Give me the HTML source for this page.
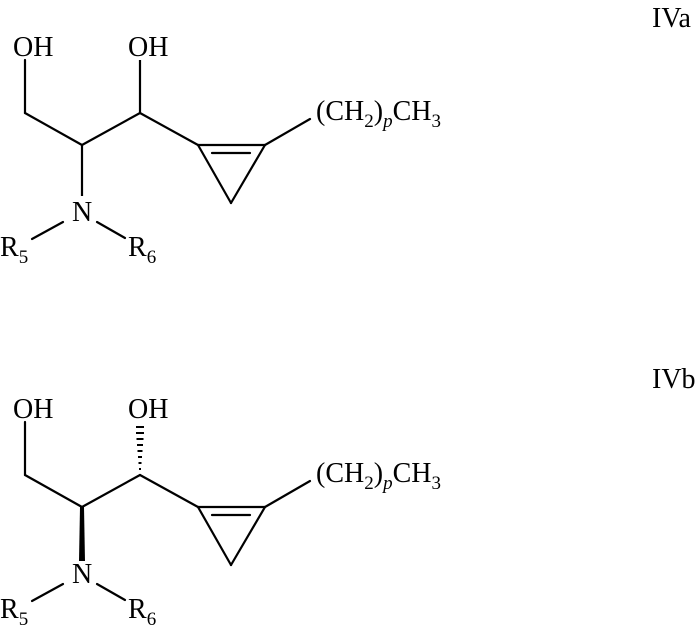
<!DOCTYPE html>
<html><head><meta charset="utf-8"><style>
html,body{margin:0;padding:0;background:#fff;}
svg{display:block;}
text{font-family:"Liberation Serif",serif;font-size:28px;fill:#000;}
</style></head><body>
<svg width="697" height="625" viewBox="0 0 697 625" xmlns="http://www.w3.org/2000/svg">
<g stroke="#000" stroke-width="2.2" fill="none" stroke-linecap="round">
<line x1="25" y1="60" x2="25" y2="113"/>
<line x1="25" y1="113" x2="82" y2="145"/>
<line x1="82" y1="145" x2="140" y2="113"/>
<line x1="140" y1="113" x2="198" y2="145"/>
<line x1="198" y1="145" x2="265" y2="145"/>
<line x1="198" y1="145" x2="231" y2="203"/>
<line x1="265" y1="145" x2="231" y2="203"/>
<line x1="212" y1="153" x2="250" y2="153"/>
<line x1="265" y1="145" x2="310" y2="119"/>
<line x1="63" y1="222" x2="32" y2="239"/>
<line x1="97" y1="222" x2="125" y2="238"/>
</g>
<g stroke="#000" stroke-width="2.2" fill="none">
<line x1="82" y1="145" x2="82" y2="196"/>
<line x1="140" y1="113" x2="140" y2="60"/>
</g>
<text x="13" y="56">OH</text>
<text x="128" y="56">OH</text>
<text x="72" y="221">N</text>
<text x="0" y="256">R<tspan font-size="19" dy="7">5</tspan></text>
<text x="128" y="256">R<tspan font-size="19" dy="7">6</tspan></text>
<text x="316" y="120">(CH<tspan font-size="19" dy="7">2</tspan><tspan dy="-7">)</tspan><tspan font-style="italic" font-size="19" dy="7">p</tspan><tspan dy="-7">CH</tspan><tspan font-size="19" dy="7">3</tspan></text>
<text x="652" y="27">IVa</text>

<g transform="translate(0,362)">
<g stroke="#000" stroke-width="2.2" fill="none" stroke-linecap="round">
<line x1="25" y1="60" x2="25" y2="113"/>
<line x1="25" y1="113" x2="82" y2="145"/>
<line x1="82" y1="145" x2="140" y2="113"/>
<line x1="140" y1="113" x2="198" y2="145"/>
<line x1="198" y1="145" x2="265" y2="145"/>
<line x1="198" y1="145" x2="231" y2="203"/>
<line x1="265" y1="145" x2="231" y2="203"/>
<line x1="212" y1="153" x2="250" y2="153"/>
<line x1="265" y1="145" x2="310" y2="119"/>
<line x1="63" y1="222" x2="32" y2="239"/>
<line x1="97" y1="222" x2="125" y2="238"/>
</g>
<polygon points="80,145 84,145 85,199 79,199" fill="#000"/>
<g stroke="#000" stroke-width="2">
<line x1="139" y1="107" x2="141" y2="107"/>
<line x1="138.5" y1="101" x2="141.5" y2="101"/>
<line x1="138" y1="95" x2="142" y2="95"/>
<line x1="137.5" y1="89" x2="142.5" y2="89"/>
<line x1="137" y1="83" x2="143" y2="83"/>
<line x1="136.5" y1="77" x2="143.5" y2="77"/>
<line x1="136" y1="71" x2="144" y2="71"/>
<line x1="136" y1="65" x2="144" y2="65"/>
</g>
<text x="13" y="56">OH</text>
<text x="128" y="56">OH</text>
<text x="72" y="221">N</text>
<text x="0" y="256">R<tspan font-size="19" dy="7">5</tspan></text>
<text x="128" y="256">R<tspan font-size="19" dy="7">6</tspan></text>
<text x="316" y="120">(CH<tspan font-size="19" dy="7">2</tspan><tspan dy="-7">)</tspan><tspan font-style="italic" font-size="19" dy="7">p</tspan><tspan dy="-7">CH</tspan><tspan font-size="19" dy="7">3</tspan></text>
</g>
<text x="652" y="388">IVb</text>
</svg>
</body></html>
